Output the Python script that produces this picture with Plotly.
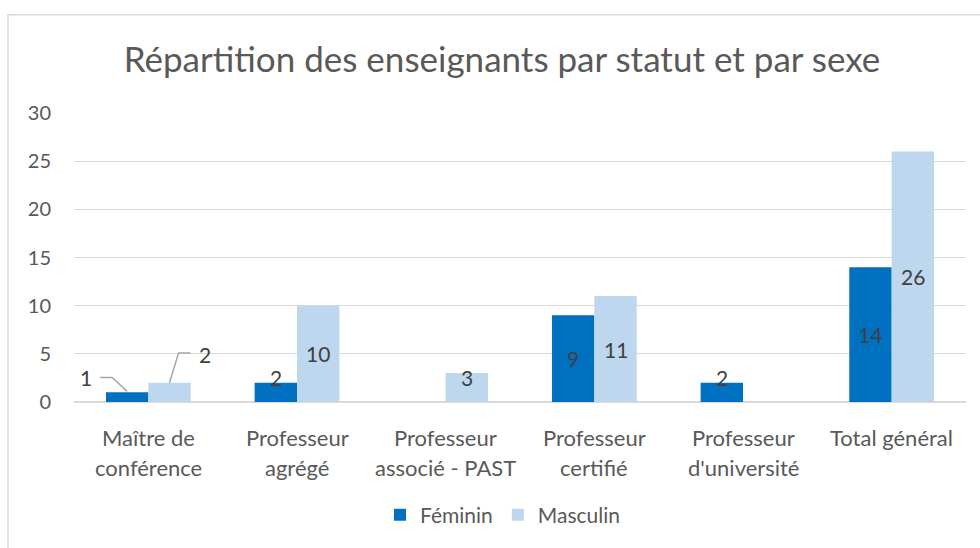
import plotly.graph_objects as go

# ---- data ----
categories = ["Maître de<br>conférence", "Professeur<br>agrégé", "Professeur<br>associé - PAST",
              "Professeur<br>certifié", "Professeur<br>d'université", "Total général"]
feminin = [1, 2, None, 9, 2, 14]
masculin = [2, 10, 3, 11, None, 26]
series_names = ["Féminin", "Masculin"]
y_ticks = [0, 5, 10, 15, 20, 25, 30]

# ---- style ----
FONT = "Lato"
C_FEM = "#0070C0"
C_MAS = "#BDD7EE"
GRID = "#d9d9d9"
TXT = "#595959"
LBL = "#404040"
W, H = 980, 548
L, R, T, B = 74, 14, 113, 144
BARGAP = 0.43
half = (1 - BARGAP) / 4  # offset of each bar centre from category centre

px_x = (W - L - R) / len(categories)        # pixels per category unit
px_y = (H - T - B) / (y_ticks[-1] - y_ticks[0])  # pixels per y unit

x_idx = list(range(len(categories)))

fig = go.Figure()
fig.add_trace(go.Bar(x=x_idx, y=feminin, name=series_names[0], marker_color=C_FEM,
                     marker_line_width=0))
fig.add_trace(go.Bar(x=x_idx, y=masculin, name=series_names[1], marker_color=C_MAS,
                     marker_line_width=0))

annotations = []
LBL_FONT = dict(family=FONT, size=21, color=LBL)
# data labels
for vals, off in ((feminin, -half), (masculin, half)):
    for i, v in enumerate(vals):
        if v is None or i == 0:
            continue
        annotations.append(dict(x=i + off, y=max(v / 2, 2.5), xref="x", yref="y",
                                text=str(v), showarrow=False, font=LBL_FONT,
                                xanchor="center", yanchor="middle"))

# first category: labels outside with leader lines (offsets in pixels)
callouts = [
    (feminin[0], -half, (-41, 15), [(-27, 15), (-15, 15), (0, 1)]),
    (masculin[0], half, (35, 28), [(21, 30), (9, 30), (0, 0)]),
]
for v, off, (dx, dy), path in callouts:
    cx = 0 + off
    annotations.append(dict(x=cx + dx / px_x, y=v + dy / px_y, xref="x", yref="y",
                            text=str(v), showarrow=False, font=LBL_FONT,
                            xanchor="center", yanchor="middle"))
    fig.add_trace(go.Scatter(x=[cx + p[0] / px_x for p in path],
                             y=[v + p[1] / px_y for p in path],
                             mode="lines", line=dict(color="#a6a6a6", width=1.5),
                             showlegend=False, hoverinfo="skip"))

# category labels (up to two lines each)
for i, c in enumerate(categories):
    for k, line in enumerate(c.split("<br>")):
        annotations.append(dict(x=i, y=0, xref="x", yref="paper", text=line,
                                showarrow=False, yshift=-(35 + 30 * k),
                                font=dict(family=FONT, size=22, color=TXT),
                                xanchor="center", yanchor="middle"))

fig.update_layout(
    width=W, height=H,
    margin=dict(l=L, r=R, t=T, b=B),
    paper_bgcolor="white", plot_bgcolor="white",
    barmode="group", bargap=BARGAP, bargroupgap=0,
    title=dict(text="Répartition des enseignants par statut et par sexe",
               x=(502 - L) / (W - L - R), xref="paper", xanchor="center",
               y=1 - 60 / H, yanchor="middle",
               font=dict(family=FONT, size=35, color=TXT)),
    xaxis=dict(range=[-0.5, len(categories) - 0.5], tickvals=x_idx,
               showticklabels=False, showgrid=False, zeroline=False, showline=False),
    yaxis=dict(range=[y_ticks[0], y_ticks[-1]], tickvals=y_ticks,
               showgrid=True, gridcolor=GRID, gridwidth=1,
               zeroline=True, zerolinecolor=GRID, zerolinewidth=1.5,
               showline=False, ticklabelstandoff=22,
               tickfont=dict(family=FONT, size=20, color=TXT)),
    legend=dict(orientation="h", x=(503 - L) / (W - L - R), xanchor="center",
                y=-(518 - (H - B)) / (H - T - B), yanchor="middle",
                font=dict(family=FONT, size=21, color=TXT), itemwidth=30,
                traceorder="normal"),
    annotations=annotations,
    showlegend=True,
)

# outer chart frame (left and top edges visible)
x0 = (8 - L) / (W - L - R)
y0 = 1 + (T - 14) / (H - T - B)
fig.add_shape(type="path", xref="paper", yref="paper",
              path=f"M {x0} -1 L {x0} {y0} L 1.2 {y0}",
              line=dict(color=GRID, width=1.5), layer="below")

fig.write_html("out.html", config={"displayModeBar": False},
               post_script="document.body.style.margin='0';document.body.style.overflow='hidden';")
